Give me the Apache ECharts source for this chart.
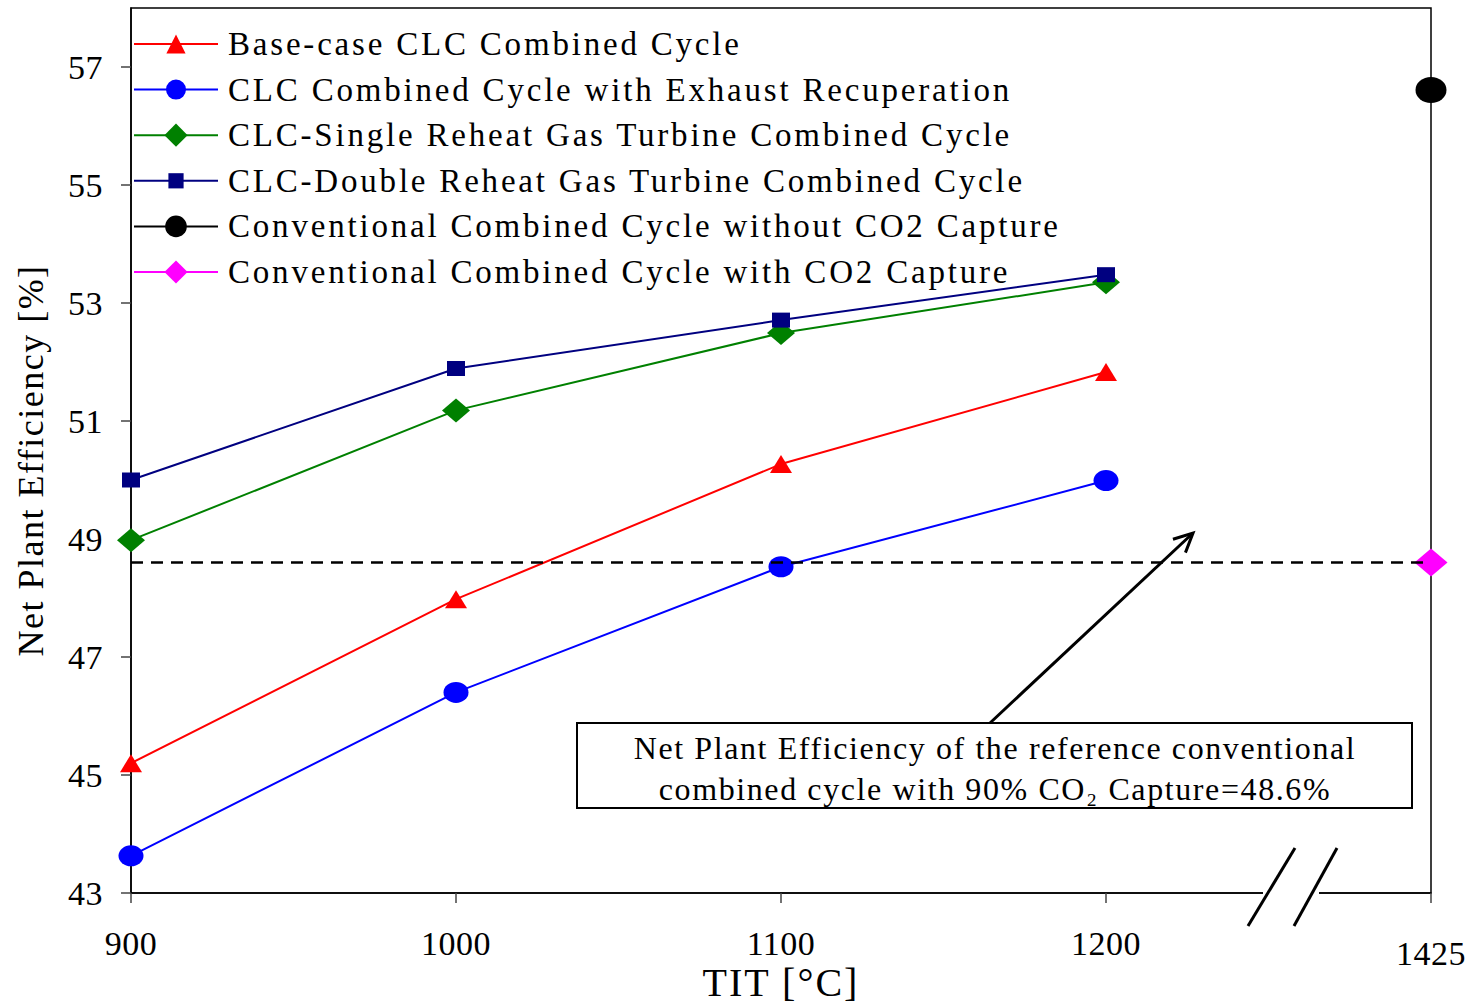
<!DOCTYPE html>
<html>
<head>
<meta charset="utf-8">
<title>Net plant efficiency vs TIT</title>
<script src="https://cdn.jsdelivr.net/npm/echarts@6/dist/echarts.min.js"></script>
<style>
    html, body { margin: 0; padding: 0; background: #fff; }
    #chart { width: 1472px; height: 1002px; }
    /* echarts has no letter spacing option, the svg text takes it from css (matched by font size) */
    #chart text[style*="33px"] { letter-spacing: 2.8px; }
    #chart text[style*="32px"] { letter-spacing: 1.6px; }
    #chart text[style*="34px"] { letter-spacing: 0.5px; }
    #chart text[style*="36px"] { letter-spacing: 1.5px; }
    #chart text[style*="40px"] { letter-spacing: 2px; }
</style>
</head>
<body>
<div id="chart"></div>
<script>
    // values
    const tit = ['900', '1000', '1100', '1200', '1425'];
    const baseCase = [45.2, 47.98, 50.27, 51.83, null];
    const exhaustRecup = [43.63, 46.4, 48.53, 49.99, null];
    const singleReheat = [48.98, 51.18, 52.49, 53.35, null];
    const doubleReheat = [50.0, 51.89, 52.71, 53.48, null];
    const convNoCapture = [null, null, null, null, 56.61];
    const convCapture = [null, null, null, null, 48.6];
    const captureRef = 48.6;
    const yTicks = [43, 45, 47, 49, 51, 53, 55, 57];

    const names = [
        'Base-case CLC Combined Cycle',
        'CLC Combined Cycle with Exhaust Recuperation',
        'CLC-Single Reheat Gas Turbine Combined Cycle',
        'CLC-Double Reheat Gas Turbine Combined Cycle',
        'Conventional Combined Cycle without CO2 Capture',
        'Conventional Combined Cycle with CO2 Capture'
    ];

    const FONT = 'Liberation Serif, Times New Roman, serif';
    // circle as a path so it can be drawn a bit wider than tall, like the original
    const ELLIPSE = 'path://M0,10A10,10 0 1,1 20,10A10,10 0 1,1 0,10Z';

    const lines = [
        {data: baseCase, color: '#ff0000', symbol: 'triangle', size: [22, 18], icon: 24},
        {data: exhaustRecup, color: '#0000ff', symbol: ELLIPSE, size: [25, 21], icon: 25},
        {data: singleReheat, color: '#008000', symbol: 'diamond', size: [28, 24], icon: 29},
        {data: doubleReheat, color: '#000080', symbol: 'rect', size: [18, 15], icon: 19},
        {data: convNoCapture, color: '#000000', symbol: ELLIPSE, size: [31, 26], icon: 27},
        {data: convCapture, color: '#ff00ff', symbol: 'diamond', size: [33, 28], icon: 29}
    ];

    const chart = echarts.init(document.getElementById('chart'), null, {renderer: 'svg'});

    const series = lines.map((s, i) => ({
        name: names[i],
        type: 'line',
        data: s.data,
        symbol: s.symbol,
        symbolSize: s.size,
        showAllSymbol: true,
        lineStyle: {color: s.color, width: 2},
        itemStyle: {color: s.color},
        emphasis: {disabled: true},
        z: 3
    }));

    // dashed reference line for the conventional plant with capture
    series[5].markLine = {
        silent: true,
        symbol: 'none',
        label: {show: false},
        lineStyle: {color: '#000', width: 2.5, type: [12, 8]},
        data: [{yAxis: captureRef}]
    };

    // one legend per entry so each keeps its own marker size
    const legends = lines.map((s, i) => ({
        data: [names[i]],
        left: 133,
        top: 44 + i * 45.6 - 16.5,
        padding: 0,
        itemWidth: 84,
        itemHeight: s.icon,
        selectedMode: false,
        textStyle: {fontFamily: FONT, fontSize: 33, color: '#000', padding: [0, 0, 0, 5]}
    }));

    // arrow pointing at the dashed line
    const tail = [990, 723], tip = [1193, 533];
    const ang = Math.atan2(tail[1] - tip[1], tail[0] - tip[0]);
    const wing = a => [tip[0] + 21 * Math.cos(ang + a), tip[1] + 21 * Math.sin(ang + a)];

    const option = {
        animation: false,
        backgroundColor: '#fff',
        grid: {
            left: 131, right: 41, top: 8, bottom: 109,
            outerBoundsMode: 'none',
            show: true, borderColor: '#000', borderWidth: 1.5, backgroundColor: 'transparent'
        },
        legend: legends,
        xAxis: {
            type: 'category',
            data: tit,
            boundaryGap: false,
            name: 'TIT [°C]',
            nameLocation: 'middle',
            nameGap: 69,
            nameMoveOverlap: false,
            nameTextStyle: {fontFamily: FONT, fontSize: 40, color: '#000'},
            axisLine: {lineStyle: {color: '#000', width: 1.5}},
            axisTick: {show: true, length: 10, lineStyle: {color: '#444', width: 1.5}},
            axisLabel: {
                fontFamily: FONT, fontSize: 34, color: '#000', margin: 33,
                formatter: v => v === '1425' ? '{low|' + v + '}' : v,
                rich: {low: {fontFamily: FONT, fontSize: 34, color: '#000', padding: [10, 0, 0, 0]}}
            },
            splitLine: {show: false}
        },
        yAxis: {
            type: 'value',
            min: 43,
            max: 58,
            name: 'Net Plant Efficiency [%]',
            nameLocation: 'middle',
            nameGap: 82,
            nameMoveOverlap: false,
            nameTextStyle: {fontFamily: FONT, fontSize: 36, color: '#000', padding: [0, 20, 0, 0]},
            axisLine: {show: true, lineStyle: {color: '#000', width: 1.5}},
            axisTick: {show: true, length: 10, customValues: yTicks, lineStyle: {color: '#444', width: 1.5}},
            axisLabel: {fontFamily: FONT, fontSize: 34, color: '#000', margin: 28, customValues: yTicks},
            splitLine: {show: false}
        },
        graphic: [
            // axis break marks
            {type: 'rect', z: 100, shape: {x: 1263, y: 889, width: 56, height: 8}, style: {fill: '#fff'}},
            {type: 'line', z: 101, shape: {x1: 1248, y1: 926, x2: 1295, y2: 848}, style: {stroke: '#000', lineWidth: 3}},
            {type: 'line', z: 101, shape: {x1: 1294, y1: 926, x2: 1337, y2: 848}, style: {stroke: '#000', lineWidth: 3}},
            // annotation
            {type: 'line', z: 101, shape: {x1: tail[0], y1: tail[1], x2: tip[0], y2: tip[1]}, style: {stroke: '#000', lineWidth: 3}},
            {type: 'polyline', z: 101, shape: {points: [wing(0.45), tip, wing(-0.45)]}, style: {stroke: '#000', lineWidth: 3, fill: null}},
            {type: 'rect', z: 100, shape: {x: 577, y: 723, width: 835, height: 85}, style: {fill: '#fff', stroke: '#000', lineWidth: 2}},
            {
                type: 'text', z: 102, x: 995, y: 768,
                style: {
                    text: 'Net Plant Efficiency of the reference conventional\ncombined cycle with 90% CO\u2082 Capture=' + captureRef + '%',
                    fontFamily: FONT, fontSize: 32, fill: '#000',
                    align: 'center', verticalAlign: 'middle', lineHeight: 41
                }
            }
        ],
        series: series
    };

    chart.setOption(option);
</script>
</body>
</html>
